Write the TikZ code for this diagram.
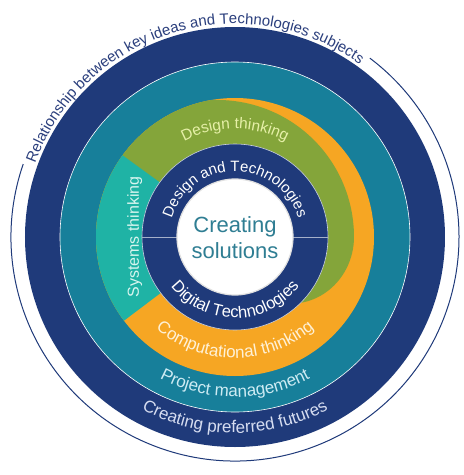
\documentclass[tikz,border=0pt]{standalone}
\usepackage{fontspec}
\setmainfont{Liberation Sans}
\usetikzlibrary{decorations.text}

\definecolor{c_navy}{HTML}{1F3A7A}
\definecolor{c_teal}{HTML}{177F9A}
\definecolor{c_sys}{HTML}{1FB3A5}
\definecolor{c_green}{HTML}{84A53A}
\definecolor{c_orange}{HTML}{F6A623}
\definecolor{c_t_green}{HTML}{E6F0A8}
\definecolor{c_t_orange}{HTML}{FFF1D6}
\definecolor{c_t_teal}{HTML}{CDEBF3}
\definecolor{c_t_sys}{HTML}{D8F5EF}
\definecolor{c_t_navy}{HTML}{D5DCF0}
\definecolor{c_t_core}{HTML}{2F7E93}
\definecolor{c_t_title}{HTML}{2B3F7D}

\begin{document}
\begin{tikzpicture}[x=1pt,y=1pt]
%define
\tikzstyle{ring_text} = [decorate, decoration={text along path, text align=center}]
\tikzstyle{edge_line} = [draw=white, line width=0.6pt]

%background
\useasboundingbox(-235,-238)rectangle(229,237);
\fill[white](-235,-238)rectangle(229,237);
%outer arc
\draw[c_navy, line width=1pt](161:224)arc[start angle=161, end angle=413, radius=224];
%ring1 (navy)
\fill[c_navy](0,0)circle(210);
%ring2 (teal)
\filldraw[fill=c_teal, edge_line](0,0)circle(175);
%ring3 (orange + green)
\fill[c_orange](0,0)circle(139);
\begin{scope}
\clip(0,0)circle(139);
\fill[c_green] plot[domain=-80:100, samples=91] (\x:{139-ifthenelse(\x>=0, 20*cos(0.9*\x), 20+0.0128*(\x)*(\x))})
  arc[start angle=100, end angle=216, radius=139] -- (0,0) -- cycle;
\end{scope}
%systems sector
\fill[c_sys](0,0)--(144:139)arc[start angle=144, end angle=217, radius=139]--cycle;
%ring4 (navy)
\filldraw[fill=c_navy, draw=white!75!c_navy, line width=0.6pt](0,0)circle(93);
\draw[white!60!c_navy, line width=0.6pt](-93,0)--(93,0);
%core
\filldraw[fill=white, draw=black!12, line width=1.2pt](0,0)circle(58);

%labels
\node[font=\fontsize{22}{26}\selectfont, text=c_t_core, align=center](label_Core) at (0,-1){Creating\\solutions};
\node[font=\fontsize{16}{19}\selectfont, text=c_t_sys, rotate=90, anchor=base](label_Systems) at (-96,0){Systems thinking};
\path[ring_text, decoration={text={|\fontsize{15}{18}\selectfont|Design and Technologies}, text color=white}](180:66)arc[start angle=180, end angle=0, radius=66];
\path[ring_text, decoration={text={|\fontsize{16.5}{19}\selectfont|Digital Technologies}, text color=white}](180:81)arc[start angle=180, end angle=360, radius=81];
\path[ring_text, decoration={text={|\fontsize{15.5}{18}\selectfont|Design thinking}, text color=c_t_green}](180:108)arc[start angle=180, end angle=0, radius=108];
\path[ring_text, decoration={text={|\fontsize{17}{20}\selectfont|Computational thinking}, text color=c_t_orange}](180:121)arc[start angle=180, end angle=360, radius=121];
\path[ring_text, decoration={text={|\fontsize{17}{20}\selectfont|Project management}, text color=c_t_teal}](180:160)arc[start angle=180, end angle=360, radius=160];
\path[ring_text, decoration={text={|\fontsize{17}{20}\selectfont|Creating preferred futures}, text color=c_t_navy}](180:196)arc[start angle=180, end angle=360, radius=196];
\path[ring_text, decoration={text={|\fontsize{15}{18}\selectfont|Relationship between key ideas and Technologies subjects}, text color=c_t_title}](197:213)arc[start angle=197, end angle=17, radius=213];

\end{tikzpicture}
\end{document}
